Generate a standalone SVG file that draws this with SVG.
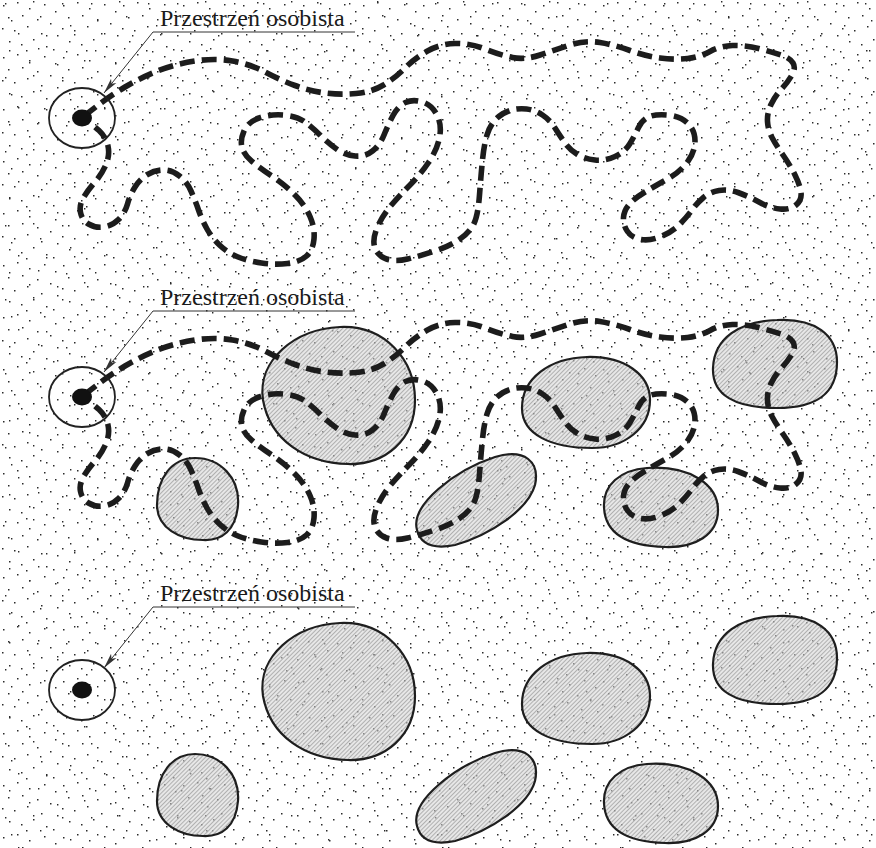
<svg xmlns="http://www.w3.org/2000/svg" xmlns:xlink="http://www.w3.org/1999/xlink" width="876" height="848" viewBox="0 0 876 848">
<style>
.lbl{font-family:"Liberation Serif","Times New Roman",serif;font-size:24px;fill:#1a1a1a}
.thin{stroke:#333;stroke-width:1;fill:none}
.ring{fill:none;stroke:#222;stroke-width:1.8}
.dot{fill:#111}
.route{fill:none;stroke:#1c1c1c;stroke-width:5.6;stroke-dasharray:15 7;stroke-linecap:butt;stroke-linejoin:round}
.blob{fill:url(#hatch);stroke:#1e1e1e;stroke-width:2.2}
</style>
<defs>
<pattern id="stA" width="60" height="52" patternUnits="userSpaceOnUse">
<path fill="#2a2a2a" d="M3,5h1.5v1.5h-1.5zM17,2h1.5v1.5h-1.5zM29,8h1.5v1.5h-1.5zM44,4h1.5v1.5h-1.5zM55,11h1.5v1.5h-1.5zM8,17h1.5v1.5h-1.5zM22,15h1.5v1.5h-1.5zM37,19h1.5v1.5h-1.5zM50,23h1.5v1.5h-1.5zM2,28h1.5v1.5h-1.5zM14,30h1.5v1.5h-1.5zM27,26h1.5v1.5h-1.5zM41,33h1.5v1.5h-1.5zM57,35h1.5v1.5h-1.5zM9,41h1.5v1.5h-1.5zM21,44h1.5v1.5h-1.5zM33,39h1.5v1.5h-1.5zM46,46h1.5v1.5h-1.5zM53,49h1.5v1.5h-1.5zM26,50h1.5v1.5h-1.5z"/>
</pattern>
<pattern id="stB" width="86" height="74" patternUnits="userSpaceOnUse">
<path fill="#2a2a2a" d="M5,3h1.4v1.4h-1.4zM33,1h1.4v1.4h-1.4zM62,3h1.4v1.4h-1.4zM11,20h1.4v1.4h-1.4zM40,16h1.4v1.4h-1.4zM70,25h1.4v1.4h-1.4zM18,33h1.4v1.4h-1.4zM46,35h1.4v1.4h-1.4zM74,34h1.4v1.4h-1.4zM9,50h1.4v1.4h-1.4zM38,48h1.4v1.4h-1.4zM66,51h1.4v1.4h-1.4zM29,62h1.4v1.4h-1.4zM57,64h1.4v1.4h-1.4zM84,60h1.4v1.4h-1.4z"/>
</pattern>
<pattern id="hatch" width="3" height="3" patternUnits="userSpaceOnUse" patternTransform="rotate(45)">
<rect width="3" height="3" fill="#d2d2d2" fill-opacity="0.55"/>
<line x1="0.5" y1="0" x2="0.5" y2="3" stroke="#8c8c8c" stroke-width="0.6"/>
</pattern>
<marker id="arr" viewBox="0 0 16 8" refX="15.5" refY="4" markerWidth="16" markerHeight="8" markerUnits="userSpaceOnUse" orient="auto">
<path d="M0,0.6 L15.5,4 L0,7.4 L3.5,4 Z" fill="#333"/>
</marker>
<path id="route" d="M84,116 L97,106 Q110,96 125,87 Q140,78 157.5,71 Q175,64 195,61 Q215,58 232.5,61 Q250,64 265,72 Q280,80 295,85.5 Q310,91 325,93 Q340,95 356,93.5 Q372,92 383.5,85 Q395,78 405,68 Q415,58 427.5,51 Q440,44 455,43.5 Q470,43 485,49 Q500,55 512.5,57.5 Q525,60 540,55 Q555,50 570,45 Q585,40 600,42.5 Q615,45 630,50.5 Q645,56 660,58 Q675,60 687.5,58.5 Q700,57 710,51.5 Q720,46 732.5,45.5 Q745,45 758.5,48.5 Q772,52 781,55 Q790,58 793,63 Q796,68 792,75 Q788,82 781.5,89 Q775,96 771,104.5 Q767,113 767.5,121.5 Q768,130 772,137.5 Q776,145 783,155 Q790,165 795,175 Q800,185 801,192.5 Q802,200 796,205 Q790,210 780,209 Q770,208 759,202 Q748,196 738,192.5 Q728,189 719,190.5 Q710,192 703.5,197.5 Q697,203 692,210 Q687,217 679.5,224.5 Q672,232 661,236.5 Q650,241 641,239.5 Q632,238 627.5,231.5 Q623,225 623.5,217.5 Q624,210 629.5,204 Q635,198 645,192 Q655,186 667.5,179 Q680,172 687.5,162 Q695,152 695,141 Q695,130 687.5,123 Q680,116 667.5,115 Q655,114 648.5,117 Q642,120 638.5,127.5 Q635,135 630,143.5 Q625,152 615,156.5 Q605,161 595,160 Q585,159 577.5,154.5 Q570,150 565,143 Q560,136 555,128 Q550,120 542.5,115 Q535,110 526.5,109 Q518,108 510,110.5 Q502,113 496,119 Q490,125 487,135 Q484,145 482.5,160 Q481,175 479.5,195 Q478,215 474,223.5 Q470,232 460,239 Q450,246 435,251 Q420,256 407.5,259 Q395,262 386.5,259 Q378,256 375,248 Q372,240 377,228 Q382,216 391,205.5 Q400,195 410,185 Q420,175 428.5,162.5 Q437,150 439.5,137.5 Q442,125 437,115 Q432,105 422.5,102 Q413,99 405.5,102.5 Q398,106 393,115.5 Q388,125 384,135 Q380,145 372.5,151 Q365,157 355,156 Q345,155 336.5,149 Q328,143 320.5,135.5 Q313,128 305,122 Q297,116 283.5,115 Q270,114 259,118 Q248,122 244,131 Q240,140 242,147.5 Q244,155 252,161.5 Q260,168 272.5,176.5 Q285,185 295,195 Q305,205 310,216.5 Q315,228 314,239 Q313,250 306.5,256 Q300,262 287.5,263.5 Q275,265 261.5,263 Q248,261 238,257 Q228,253 220,245.5 Q212,238 207,229 Q202,220 198.5,210 Q195,200 191,191 Q187,182 179.5,176 Q172,170 163.5,170 Q155,170 147.5,174.5 Q140,179 135,187 Q130,195 127.5,204 Q125,213 118.5,219.5 Q112,226 103.5,227 Q95,228 88.5,224 Q82,220 80.5,212.5 Q79,205 83.5,197.5 Q88,190 95,182 Q102,174 106,164.5 Q110,155 108,146 Q106,137 99,130.5 Q92,124 84,119"/>
</defs>

<rect width="876" height="848" fill="#fff"/>
<rect width="876" height="848" fill="url(#stA)"/>
<rect width="876" height="848" fill="url(#stB)"/>

<!-- Panel 1 -->
<g id="panel-1">
  <g id="connectors-1">
    <use href="#route" class="route"/>
  </g>
  <g id="person-1">
    <ellipse class="ring" cx="82" cy="118" rx="33" ry="30"/>
    <ellipse class="dot" cx="82" cy="118" rx="10" ry="8.5"/>
  </g>
  <g id="label-1">
    <text class="lbl" x="160" y="26">Przestrzeń osobista</text>
    <line class="thin" x1="153" y1="32" x2="355" y2="32"/>
    <line class="thin" x1="153" y1="32" x2="104" y2="93" marker-end="url(#arr)"/>
  </g>
</g>

<!-- Panel 2 -->
<g id="panel-2">
  <g id="blobs-2">
    <g id="blob-2a"><path class="blob" d="M340,327 C385,325 415,360 415,400 C415,440 385,465 348,464 C305,463 270,440 263,400 C257,360 295,329 340,327 Z"/></g>
    <g id="blob-2b"><path class="blob" d="M195,458 C220,458 240,478 238,505 C236,530 222,541 203,540 C180,540 157,528 157,505 C157,478 172,458 195,458 Z"/></g>
    <g id="blob-2c"><path class="blob" d="M417,530 C410,505 455,470 495,457 C525,448 540,462 535,485 C528,510 490,535 455,545 C430,550 420,542 417,530 Z"/></g>
    <g id="blob-2d"><path class="blob" d="M587,357 C625,356 650,375 650,400 C650,428 625,448 592,448 C552,448 522,435 522,408 C522,378 550,358 587,357 Z"/></g>
    <g id="blob-2e"><path class="blob" d="M647,468 C690,465 718,485 718,510 C718,535 695,548 665,547 C630,546 605,535 604,507 C603,485 620,470 647,468 Z"/></g>
    <g id="blob-2f"><path class="blob" d="M777,320 C815,318 837,335 837,362 C837,395 815,408 777,408 C735,408 712,395 713,368 C714,338 740,321 777,320 Z"/></g>
  </g>
  <g id="connectors-2">
    <use href="#route" class="route" transform="translate(0,279)"/>
  </g>
  <g id="person-2" transform="translate(0,279)">
    <ellipse class="ring" cx="82" cy="118" rx="33" ry="30"/>
    <ellipse class="dot" cx="82" cy="118" rx="10" ry="8.5"/>
  </g>
  <g id="label-2" transform="translate(0,279)">
    <text class="lbl" x="160" y="26">Przestrzeń osobista</text>
    <line class="thin" x1="153" y1="32" x2="355" y2="32"/>
    <line class="thin" x1="153" y1="32" x2="104" y2="93" marker-end="url(#arr)"/>
  </g>
</g>

<!-- Panel 3 -->
<g id="panel-3">
  <g id="blobs-3" transform="translate(0,296)">
    <g id="blob-3a"><path class="blob" d="M340,327 C385,325 415,360 415,400 C415,440 385,465 348,464 C305,463 270,440 263,400 C257,360 295,329 340,327 Z"/></g>
    <g id="blob-3b"><path class="blob" d="M195,458 C220,458 240,478 238,505 C236,530 222,541 203,540 C180,540 157,528 157,505 C157,478 172,458 195,458 Z"/></g>
    <g id="blob-3c"><path class="blob" d="M417,530 C410,505 455,470 495,457 C525,448 540,462 535,485 C528,510 490,535 455,545 C430,550 420,542 417,530 Z"/></g>
    <g id="blob-3d"><path class="blob" d="M587,357 C625,356 650,375 650,400 C650,428 625,448 592,448 C552,448 522,435 522,408 C522,378 550,358 587,357 Z"/></g>
    <g id="blob-3e"><path class="blob" d="M647,468 C690,465 718,485 718,510 C718,535 695,548 665,547 C630,546 605,535 604,507 C603,485 620,470 647,468 Z"/></g>
    <g id="blob-3f"><path class="blob" d="M777,320 C815,318 837,335 837,362 C837,395 815,408 777,408 C735,408 712,395 713,368 C714,338 740,321 777,320 Z"/></g>
  </g>
  <g id="person-3" transform="translate(0,572)">
    <ellipse class="ring" cx="82" cy="118" rx="33" ry="30"/>
    <ellipse class="dot" cx="82" cy="118" rx="10" ry="8.5"/>
  </g>
  <g id="label-3" transform="translate(0,575)">
    <text class="lbl" x="160" y="26">Przestrzeń osobista</text>
    <line class="thin" x1="153" y1="32" x2="355" y2="32"/>
    <line class="thin" x1="153" y1="32" x2="104" y2="93" marker-end="url(#arr)"/>
  </g>
</g>
</svg>
